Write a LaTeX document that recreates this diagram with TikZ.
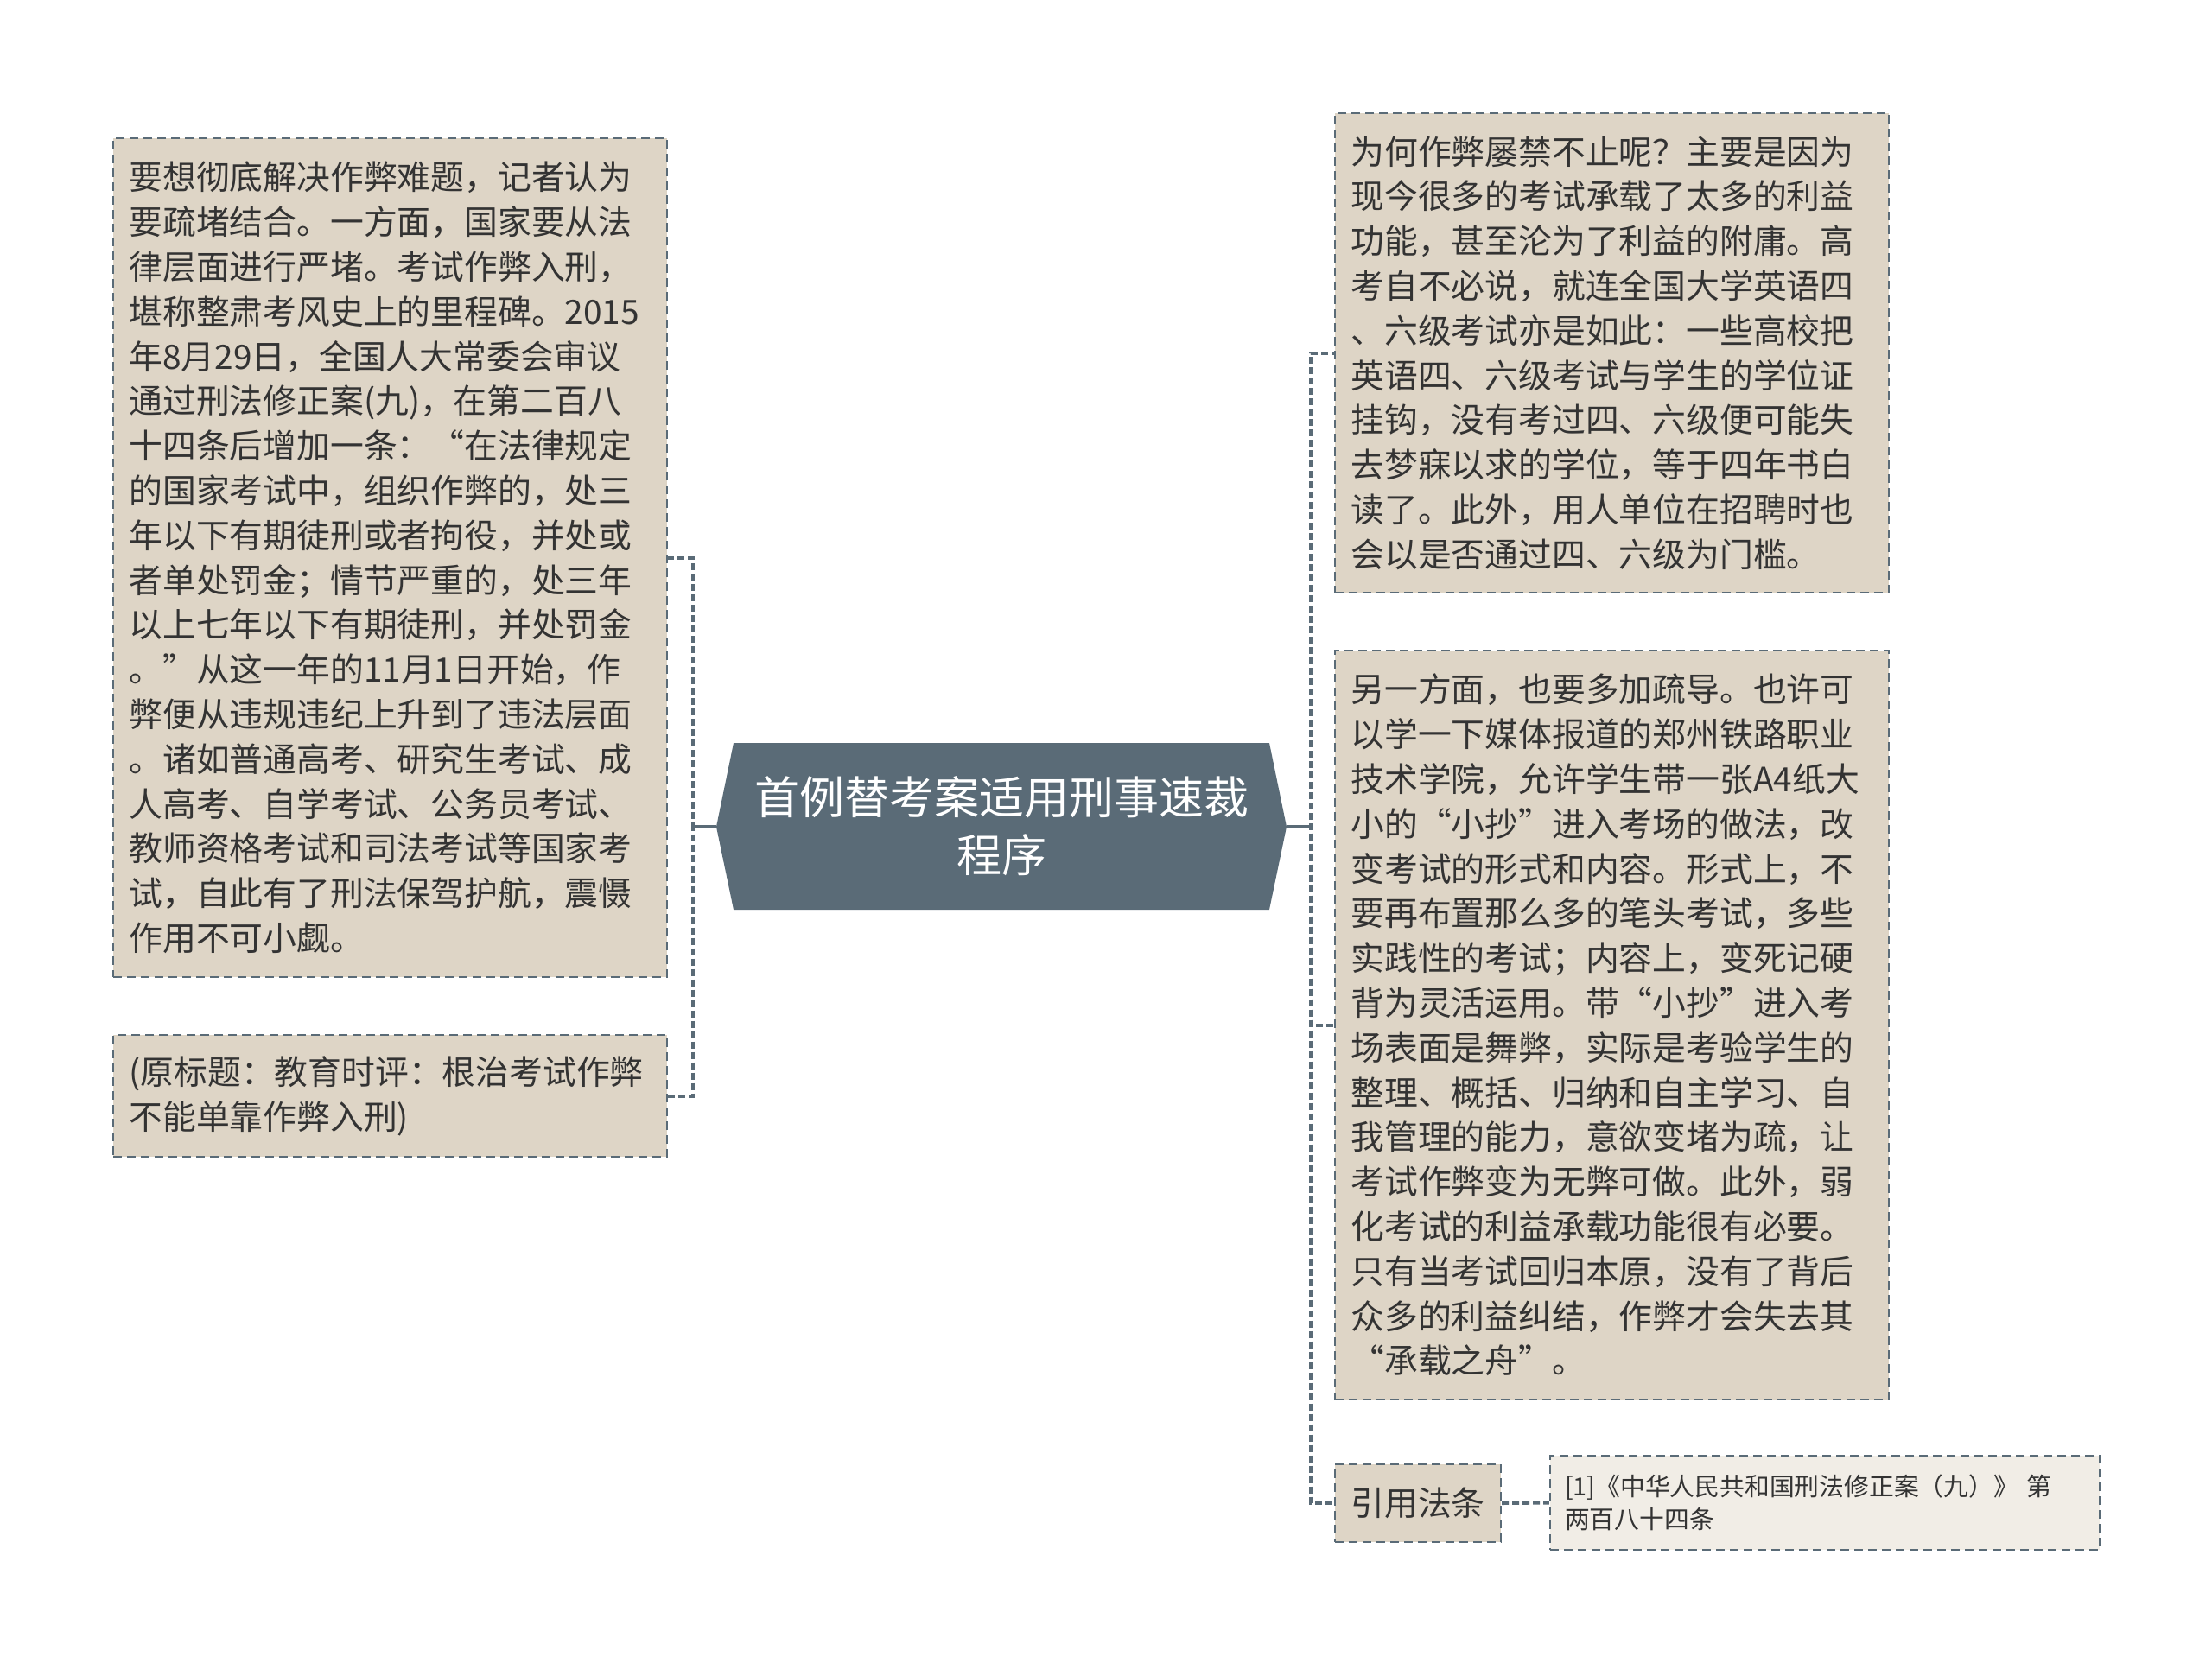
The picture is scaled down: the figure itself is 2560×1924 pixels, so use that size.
\documentclass[tikz,border=0pt]{standalone}
\usepackage{fontspec}
\setmainfont{Noto Sans CJK SC}
\definecolor{slate}{HTML}{5A6B77}
\definecolor{sand}{HTML}{DED5C6}
\definecolor{paper}{HTML}{F1EDE6}
\definecolor{ink}{HTML}{333333}

\begin{document}
\begin{tikzpicture}[x=0.5pt,y=-0.5pt,
  box/.style={draw=slate, fill=sand, line width=1.1pt, dash pattern=on 5pt off 3pt,
    text=ink, align=left, text width=302pt, inner xsep=9.25pt, inner ysep=0pt,
    font=\fontsize{19.4pt}{25.9pt}\selectfont},
  hub/.style={text=white, align=center, minimum width=330pt, minimum height=96.5pt,
    inner sep=0pt, font=\fontsize{26pt}{33.5pt}\selectfont},
  link/.style={draw=slate, line width=2pt, dash pattern=on 4pt off 2pt},
  stub/.style={draw=slate, line width=2pt}]
\useasboundingbox (0,0) rectangle (2560,1924);

% central topic
\fill[slate] (829,957) -- (849,860) -- (1469,860) -- (1489,957) -- (1469,1053) -- (849,1053) -- cycle;
\node[hub] (hub) at (1159,956.5) {首例替考案适用刑事速裁\\程序};

% left branch
\node[box, minimum height=485.5pt] (reform) at (451.5,645.5) {要想彻底解决作弊难题，记者认为\\要疏堵结合。一方面，国家要从法\\律层面进行严堵。考试作弊入刑，\\堪称整肃考风史上的里程碑。2015\\年8月29日，全国人大常委会审议\\通过刑法修正案(九)，在第二百八\\十四条后增加一条：“在法律规定\\的国家考试中，组织作弊的，处三\\年以下有期徒刑或者拘役，并处或\\者单处罚金；情节严重的，处三年\\以上七年以下有期徒刑，并处罚金\\。”从这一年的11月1日开始，作\\弊便从违规违纪上升到了违法层面\\。诸如普通高考、研究生考试、成\\人高考、自学考试、公务员考试、\\教师资格考试和司法考试等国家考\\试，自此有了刑法保驾护航，震慑\\作用不可小觑。};
\node[box, minimum height=70.5pt] (origtitle) at (451.5,1268.5) {(原标题：教育时评：根治考试作弊\\不能单靠作弊入刑)};

% right branch
\node[box, minimum height=277.5pt] (reason) at (1865.5,408.5) {为何作弊屡禁不止呢？主要是因为\\现今很多的考试承载了太多的利益\\功能，甚至沦为了利益的附庸。高\\考自不必说，就连全国大学英语四\\、六级考试亦是如此：一些高校把\\英语四、六级考试与学生的学位证\\挂钩，没有考过四、六级便可能失\\去梦寐以求的学位，等于四年书白\\读了。此外，用人单位在招聘时也\\会以是否通过四、六级为门槛。};
\node[box, minimum height=433.5pt] (guide) at (1865.5,1186.5) {另一方面，也要多加疏导。也许可\\以学一下媒体报道的郑州铁路职业\\技术学院，允许学生带一张A4纸大\\小的“小抄”进入考场的做法，改\\变考试的形式和内容。形式上，不\\要再布置那么多的笔头考试，多些\\实践性的考试；内容上，变死记硬\\背为灵活运用。带“小抄”进入考\\场表面是舞弊，实际是考验学生的\\整理、概括、归纳和自主学习、自\\我管理的能力，意欲变堵为疏，让\\考试作弊变为无弊可做。此外，弱\\化考试的利益承载功能很有必要。\\只有当考试回归本原，没有了背后\\众多的利益纠结，作弊才会失去其\\“承载之舟”。};
\node[box, text width=, align=center, minimum width=96pt, minimum height=45pt, inner xsep=0pt] (lawref) at (1641,1740) {引用法条};
\node[box, fill=paper, text width=301pt, inner xsep=8.5pt, minimum height=54.5pt,
  font=\fontsize{14.4pt}{18.8pt}\selectfont] (article) at (2112,1739.5) {[1]《中华人民共和国刑法修正案（九）》 第\\两百八十四条};

\path[stub] (hub.west) -- ++(-13.5pt,0);
\path[stub] (hub.east) -- ++(14pt,0);
\path[draw,link] (hub.west) -- ++(-13.5pt,0) |- (reform.east);
\path[draw,link] (hub.west) -- ++(-13.5pt,0) |- (origtitle.east);
\path[draw,link] (hub.east) -- ++(14pt,0) |- (reason.west);
\path[draw,link] (hub.east) -- ++(14pt,0) |- (guide.west);
\path[draw,link] (hub.east) -- ++(14pt,0) |- (lawref.west);
\path[draw,link] (lawref.east) -- (article.west);
\end{tikzpicture}
\end{document}
